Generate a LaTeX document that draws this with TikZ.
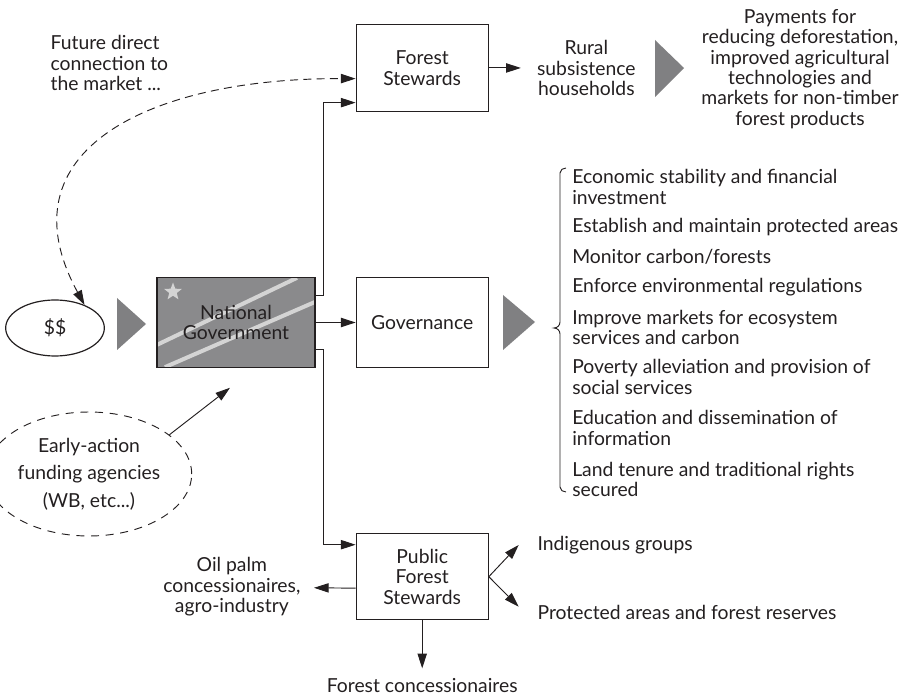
\documentclass[tikz,border=0pt]{standalone}
\usepackage{fontspec}
\setmainfont{Lato}
\usetikzlibrary{shapes.geometric, arrows.meta, positioning, calc}
\definecolor{ink}{RGB}{35,31,32}
\definecolor{flaggray}{RGB}{138,138,140}
\definecolor{stripegray}{RGB}{212,212,212}
\definecolor{pointgray}{RGB}{128,128,130}
\tikzstyle{box}       = [rectangle, draw=ink, line width=0.9pt, minimum width=99pt,
                         minimum height=66pt, align=center, text=ink]
\tikzstyle{flag}      = [rectangle, draw=ink, line width=0.9pt, fill=flaggray, minimum width=118.5pt,
                         minimum height=67pt, align=center, text=ink,
                         path picture={
                           \coordinate (nw) at (path picture bounding box.north west);
                           \coordinate (ne) at (path picture bounding box.north east);
                           \coordinate (sw) at (path picture bounding box.south west);
                           \coordinate (se) at (path picture bounding box.south east);
                           \draw[stripegray, line width=3pt] ($(nw)!0.75!(sw)$) -- ($(nw)!0.886!(ne)$);
                           \draw[stripegray, line width=3pt] ($(sw)!0.05!(se)$) -- ($(ne)!0.27!(se)$);
                           \node[star, star points=5, star point ratio=2.4, fill=stripegray, inner sep=0pt,
                                 minimum size=14pt] at ($(nw)+(12pt,-10.5pt)$) {};
                         }]
\tikzstyle{lbl}       = [align=center, text=ink, inner sep=1pt]
\tikzstyle{item}      = [align=left, anchor=west, text=ink, inner sep=0pt]
\tikzstyle{arrow}     = [-{Triangle[length=11pt,width=7pt]}, line width=0.7pt, draw=ink]
\tikzstyle{dasharrow} = [{Triangle[length=11pt,width=7pt]}-{Triangle[length=11pt,width=7pt]},
                         dash pattern=on 6pt off 4pt, line width=0.7pt, draw=ink]
\tikzstyle{pointer}   = [fill=pointgray]

\begin{document}
\begin{tikzpicture}[x=0.75pt, y=-0.75pt, node distance=30pt,
    every node/.style={font=\fontsize{14.5}{15.3}\selectfont}]
    \useasboundingbox (0,0) rectangle (907,695);

    % boxes
    \node (natgov) [flag] at (236,322.5) {National\\Government};
    \node (gov) [box, minimum height=67pt, right=30pt of natgov] {Governance};
    \node (fstew) [box, minimum height=65pt, above=124pt of gov] {Forest\\Stewards};
    \node (pfs) [box, minimum height=64.5pt, below=124pt of gov] {Public\\Forest\\Stewards};

    \node (dollars) [ellipse, draw=ink, line width=0.9pt, minimum width=74pt, minimum height=42pt,
                     text=ink] at (55,328) {\$\$};
    \node (early) [ellipse, draw=ink, line width=0.7pt, dash pattern=on 6pt off 5pt, lbl,
                   minimum width=126pt, minimum height=93pt,
                   font=\fontsize{14.5}{20.5}\selectfont] at (89,474) {Early-action\\funding agencies\\(WB, etc...)};

    % labels
    \node (future) [lbl, align=left, anchor=west] at (49,63) {Future direct\\connection to\\the market ...};
    \node (rural) [lbl, right=35pt of fstew] {Rural\\subsistence\\households};
    \node (pay) [lbl] at (800,69) {Payments for\\reducing deforestation,\\improved agricultural\\technologies and\\markets for non-timber\\forest products};
    \node (oil) [lbl, anchor=east] at (302,587) {Oil palm\\concessionaires,\\agro-industry};
    \node (fconc) [lbl, below=42pt of pfs] {Forest concessionaires};
    \node (indig) [lbl, anchor=west] at (536,545) {Indigenous groups};
    \node (prot) [lbl, anchor=west] at (536,612) {Protected areas and forest reserves};

    % governance tasks
    \node (econ) [item] at (572,187) {Economic stability and financial\\investment};
    \node (estab) [item] at (572,227) {Establish and maintain protected areas};
    \node (monit) [item] at (572,257) {Monitor carbon/forests};
    \node (enforce) [item] at (572,287) {Enforce environmental regulations};
    \node (markets) [item] at (572,327.5) {Improve markets for ecosystem\\services and carbon};
    \node (poverty) [item] at (572,377) {Poverty alleviation and provision of\\social services};
    \node (educ) [item] at (572,428) {Education and dissemination of\\information};
    \node (land) [item] at (572,479.5) {Land tenure and traditional rights\\secured};
    \draw[ink, line width=0.7pt] (566,168) to[out=180,in=90] (560,173) -- (560,322)
        to[out=-90,in=0] (554,328) to[out=0,in=90] (560,334) -- (560,487) to[out=-90,in=180] (566,492);

    % big pointers
    \fill[pointer] (117,298) -- (146,324) -- (117,350) -- cycle;
    \fill[pointer] (503,295) -- (535,322) -- (503,350) -- cycle;
    \fill[pointer] (655,40) -- (684,68) -- (655,97) -- cycle;

    \coordinate (govtip) at ([xshift=-4.5pt,yshift=-15pt]natgov.south);

    \draw[arrow] (natgov) -- (gov);
    \draw[arrow] ([yshift=20.6pt]natgov.east) -- ++(6pt,0) |- ([yshift=-26pt]fstew.west);
    \draw[arrow] ([yshift=-20.6pt]natgov.east) -- ++(6pt,0) |- ([yshift=24pt]pfs.west);
    \draw[arrow, shorten >=11pt] (fstew) -- (rural);
    \draw[arrow, shorten >=9pt] ([yshift=-8.6pt]pfs.west) -- (oil);
    \draw[arrow, shorten >=6pt] (pfs) -- (fconc);
    \draw[arrow] (pfs.east) -- ([xshift=-13pt]indig.west);
    \draw[arrow] (pfs.east) -- ([xshift=-13pt,yshift=4pt]prot.west);
    \draw[arrow] (early.26) -- (govtip);
    \draw[dasharrow] (dollars.38) .. controls (0,150) and (150,78) .. ([yshift=-8pt]fstew.west);
\end{tikzpicture}
\end{document}
